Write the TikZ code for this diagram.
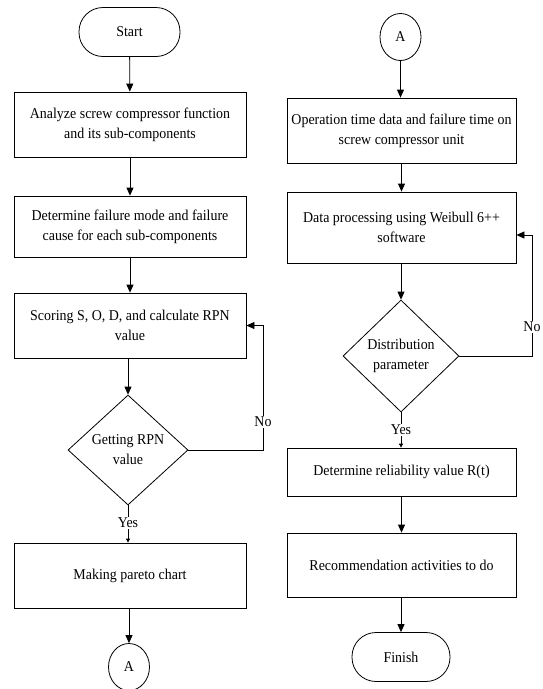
\documentclass[tikz,border=0pt]{standalone}
\usepackage{fontspec}
\setmainfont{Liberation Serif}[FakeStretch=0.93]
\usetikzlibrary{positioning}
\usetikzlibrary{shapes.geometric}
\usetikzlibrary{arrows.meta}

\tikzset{
  flow/.style={line width=0.8pt, -{Triangle[length=8pt,width=7pt]}},
  flowsmall/.style={line width=0.8pt, -{Triangle[length=4pt,width=4pt]}},
  proc/.style={draw, line width=0.8pt, align=center, font=\fontsize{15}{20}\selectfont},
  term/.style={draw, line width=0.8pt, rounded corners=24pt, minimum height=49pt, font=\fontsize{15}{20}\selectfont},
  conn/.style={draw, line width=0.8pt, ellipse, minimum width=41pt, minimum height=47pt, inner sep=0pt, font=\fontsize{15}{20}\selectfont},
  decide/.style={draw, line width=0.8pt, diamond, align=center, inner sep=0pt, font=\fontsize{15}{20}\selectfont},
  lbl/.style={fill=white, inner sep=1pt, font=\fontsize{15}{20}\selectfont}
}

\begin{document}
\begin{tikzpicture}[x=1pt, y=-1pt]
\useasboundingbox (0,0) rectangle (543,689);

%left column
\node[term, minimum width=101pt] (start) at (129.5,32) {Start};
\node[proc, minimum width=232pt, minimum height=65pt] (analyze) at (130,124.5)
{Analyze screw compressor function\\and its sub-components};
\node[proc, minimum width=232pt, minimum height=61pt] (failmode) at (130,226.5)
{Determine failure mode and failure\\cause for each sub-components};
\node[proc, minimum width=232pt, minimum height=65pt] (scoring) at (130,325.5)
{Scoring S, O, D, and calculate RPN\\value};
\node[decide, minimum width=120pt, minimum height=110pt] (getrpn) at (128,450)
{Getting RPN\\value};
\node[lbl] (yesleft) at (128,523) {Yes};
\node[proc, minimum width=232pt, minimum height=65pt] (pareto) at (130,575.5)
{Making pareto chart};
\node[conn] (aleft) at (129,667) {A};
\coordinate (noleft) at (263,450);
\node[lbl] (noleftlbl) at (263,422) {No};

\draw[flow] (start) -- (analyze);
\draw[flow] (analyze) -- (failmode);
\draw[flow] (failmode) -- (scoring);
\draw[flow] (scoring.south -| getrpn.north) -- (getrpn.north);
\draw[line width=0.8pt] (getrpn.south) -- (yesleft.north);
\draw[flowsmall] (yesleft.south) -- (yesleft.south |- pareto.north);
\draw[flow] (pareto.south -| aleft.north) -- (aleft.north);
\draw[flow] (getrpn.east) -- (noleft) |- (scoring.east);

%right column
\node[conn] (aright) at (400.5,37) {A};
\node[proc, minimum width=229pt, minimum height=65pt] (optime) at (401.5,130.5)
{Operation time data and failure time on\\screw compressor unit};
\node[proc, minimum width=229pt, minimum height=71pt] (weibull) at (401.5,227.5)
{Data processing using Weibull 6++\\software};
\node[decide, minimum width=116pt, minimum height=112pt] (distpar) at (401,356)
{Distribution\\parameter};
\node[lbl] (yesright) at (401,430) {Yes};
\node[proc, minimum width=229pt, minimum height=48pt] (reliab) at (401.5,472)
{Determine reliability value R(t)};
\node[proc, minimum width=229pt, minimum height=64pt] (recomm) at (401.5,565)
{Recommendation activities to do};
\node[term, minimum width=98pt] (finish) at (401,657) {Finish};
\coordinate (noright) at (532,356);
\coordinate (backright) at (532,235);
\node[lbl] (norightlbl) at (532,327) {No};

\draw[flow] (aright.south) -- (aright.south |- optime.north);
\draw[flow] (optime) -- (weibull);
\draw[flow] (weibull.south -| distpar.north) -- (distpar.north);
\draw[line width=0.8pt] (distpar.south) -- (yesright.north);
\draw[flowsmall] (yesright.south) -- (yesright.south |- reliab.north);
\draw[flow] (reliab) -- (recomm);
\draw[flow] (recomm.south -| finish.north) -- (finish.north);
\draw[flow] (distpar.east) -- (noright) -- (backright) -- (backright -| weibull.east);

\node[lbl] at (noleftlbl) {No};
\node[lbl] at (norightlbl) {No};
\end{tikzpicture}
\end{document}
